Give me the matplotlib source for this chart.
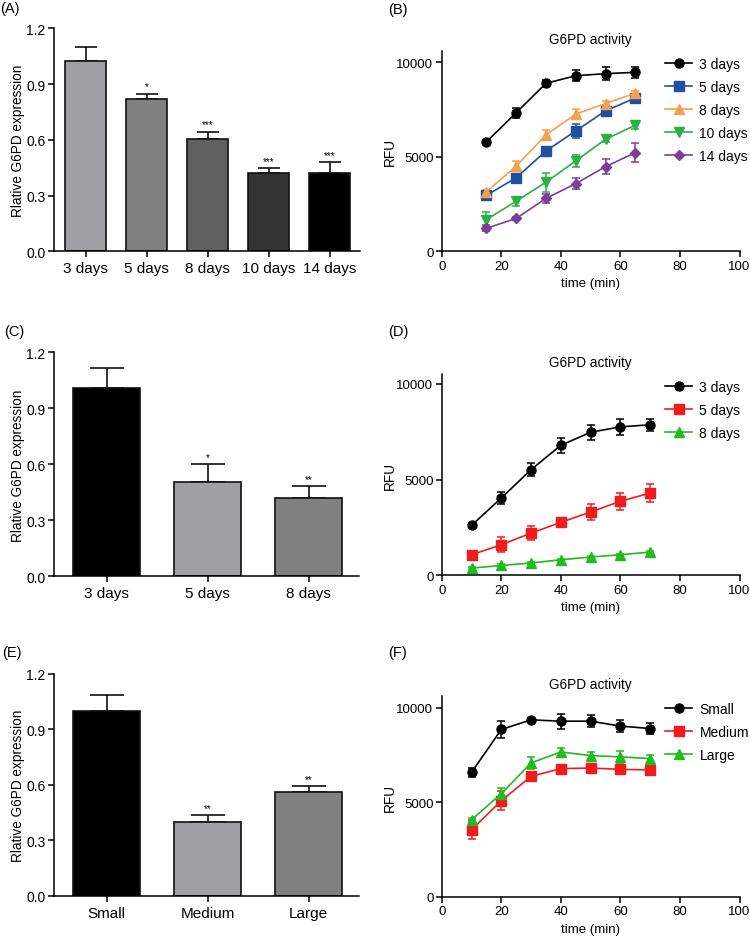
import numpy as np
import matplotlib
matplotlib.use("Agg")
import matplotlib.pyplot as plt

plt.rcParams['font.family'] = ['Liberation Sans', 'DejaVu Sans']
plt.rcParams['font.size'] = 9.5

# ---- bar panels (A, C, E) ----
a_labels = ['3 days', '5 days', '8 days', '10 days', '14 days']
a_means = [1.025, 0.822, 0.603, 0.423, 0.419]
a_errs = [0.072, 0.027, 0.041, 0.025, 0.059]
a_stars = ['', '*', '***', '***', '***']
a_colors = ['#a0a0a4', '#808080', '#606060', '#333333', '#000000']

c_labels = ['3 days', '5 days', '8 days']
c_means = [1.007, 0.504, 0.418]
c_errs = [0.108, 0.096, 0.064]
c_stars = ['', '*', '**']
c_colors = ['#000000', '#a0a0a4', '#808080']

e_labels = ['Small', 'Medium', 'Large']
e_means = [0.998, 0.399, 0.563]
e_errs = [0.088, 0.036, 0.031]
e_stars = ['', '**', '**']
e_colors = ['#000000', '#a0a0a4', '#808080']

# ---- time course panels (B, D, F) ----
b_time = [15, 25, 35, 45, 55, 65]
b_names = ['3 days', '5 days', '8 days', '10 days', '14 days']
b_vals = [
    [5790, 7330, 8890, 9290, 9400, 9470],
    [2960, 3890, 5310, 6370, 7430, 8110],
    [3150, 4510, 6160, 7260, 7820, 8370],
    [1680, 2650, 3660, 4780, 5930, 6670],
    [1220, 1740, 2800, 3580, 4480, 5220],
]
b_errs = [
    [100, 250, 200, 300, 350, 300],
    [150, 200, 200, 350, 250, 150],
    [100, 250, 250, 250, 150, 100],
    [400, 250, 500, 300, 150, 200],
    [150, 100, 250, 300, 400, 500],
]
b_colors = ['#000000', '#1f4f9f', '#f5a04c', '#2bb143', '#7b3f99']
b_markers = ['o', 's', '^', 'v', 'D']

d_time = [10, 20, 30, 40, 50, 60, 70]
d_names = ['3 days', '5 days', '8 days']
d_vals = [
    [2610, 4040, 5520, 6790, 7470, 7750, 7860],
    [1080, 1600, 2210, 2770, 3310, 3870, 4300],
    [380, 520, 650, 820, 960, 1080, 1220],
]
d_errs = [
    [100, 300, 350, 400, 400, 400, 300],
    [100, 400, 350, 200, 400, 450, 450],
    [60, 60, 60, 60, 60, 60, 60],
]
d_colors = ['#000000', '#f01c1c', '#1fbb1f']
d_markers = ['o', 's', '^']

f_time = [10, 20, 30, 40, 50, 60, 70]
f_names = ['Small', 'Medium', 'Large']
f_vals = [
    [6580, 8850, 9360, 9290, 9290, 9030, 8900],
    [3540, 5080, 6370, 6780, 6810, 6740, 6710],
    [4070, 5450, 7080, 7660, 7470, 7400, 7310],
]
f_errs = [
    [250, 450, 100, 400, 300, 300, 300],
    [500, 500, 150, 150, 150, 100, 100],
    [100, 300, 300, 200, 200, 300, 200],
]
f_colors = ['#000000', '#f01c1c', '#1fbb1f']
f_markers = ['o', 's', '^']


def style_axes(ax):
    for s in ['top', 'right']:
        ax.spines[s].set_visible(False)
    for s in ['left', 'bottom']:
        ax.spines[s].set_linewidth(1.1)
    ax.tick_params(direction='out', length=4, width=1.1, labelsize=9.5, pad=2)


def bar_panel(ax, labels, means, errs, stars, colors, width, capsize):
    x = np.arange(len(labels))
    ax.bar(x, means, width=width, color=colors, edgecolor='#111111', linewidth=1.2, zorder=2)
    ax.errorbar(x, means, yerr=[np.zeros(len(errs)), errs], fmt='none',
                ecolor='#111111', elinewidth=1.2, capsize=capsize, capthick=1.2, zorder=1)
    for xi, m, e, s in zip(x, means, errs, stars):
        if s:
            ax.text(xi, m + e + 0.012, s, ha='center', va='bottom', fontsize=7)
    ax.set_xticks(x)
    ax.set_xticklabels(labels)
    ax.set_xlim(-0.52, len(labels) - 0.5)
    ax.set_ylim(0, 1.2)
    ax.set_yticks([0.0, 0.3, 0.6, 0.9, 1.2])
    ax.set_yticklabels(['0.0', '0.3', '0.6', '0.9', '1.2'])
    style_axes(ax)
    ax.tick_params(axis='x', labelsize=11, pad=3)
    ax.tick_params(axis='y', labelsize=10)
    ax.set_ylabel('Rlative G6PD expression', fontsize=9.8)
    ax.yaxis.set_label_coords(-0.095, 0.5)


def line_panel(ax, t, names, vals, errs, colors, markers, ytop):
    for name, v, e, c, m in zip(names, vals, errs, colors, markers):
        ax.errorbar(t, v, yerr=e, color=c, marker=m, markersize=6.5 if m != 'D' else 5.5,
                    linewidth=1.2, elinewidth=1.1, capsize=2.8, capthick=1.1, label=name)
    ax.set_xlim(0, 100)
    ax.set_ylim(0, ytop)
    ax.set_xticks([0, 20, 40, 60, 80, 100])
    ax.set_yticks([0, 5000, 10000])
    style_axes(ax)
    ax.set_xlabel('time (min)', fontsize=9.5)
    ax.set_ylabel('RFU', fontsize=9.8)
    ax.yaxis.set_label_coords(-0.151, 0.5)
    ax.set_title('G6PD activity', fontsize=9.8, pad=6)
    handles, labs = ax.get_legend_handles_labels()
    handles = [h[0] for h in handles]
    ax.legend(handles, labs, loc='upper left', bbox_to_anchor=(0.73, 1.0),
              frameon=False, fontsize=10, handlelength=2.0, handletextpad=0.5,
              labelspacing=0.65, borderaxespad=0)


fig = plt.figure(figsize=(7.5, 9.45), dpi=100)

axA = fig.add_axes([0.072, 0.733, 0.408, 0.236])
bar_panel(axA, a_labels, a_means, a_errs, a_stars, a_colors, 0.67, 8)

axC = fig.add_axes([0.072, 0.389, 0.407, 0.237])
bar_panel(axC, c_labels, c_means, c_errs, c_stars, c_colors, 0.66, 12)

axE = fig.add_axes([0.072, 0.051, 0.407, 0.235])
bar_panel(axE, e_labels, e_means, e_errs, e_stars, e_colors, 0.66, 12)

axB = fig.add_axes([0.589, 0.733, 0.397, 0.212])
line_panel(axB, b_time, b_names, b_vals, b_errs, b_colors, b_markers, 10600)

axD = fig.add_axes([0.589, 0.390, 0.397, 0.213])
line_panel(axD, d_time, d_names, d_vals, d_errs, d_colors, d_markers, 10500)

axF = fig.add_axes([0.589, 0.050, 0.397, 0.212])
line_panel(axF, f_time, f_names, f_vals, f_errs, f_colors, f_markers, 10600)

for lab, x, y in [('(A)', 0.0, 0.991), ('(B)', 0.517, 0.989), ('(C)', 0.005, 0.649),
                  ('(D)', 0.517, 0.649), ('(E)', 0.003, 0.309), ('(F)', 0.517, 0.309)]:
    fig.text(x, y, lab, fontsize=10.5, ha='left', va='center')

fig.savefig('out.png', dpi=100)
